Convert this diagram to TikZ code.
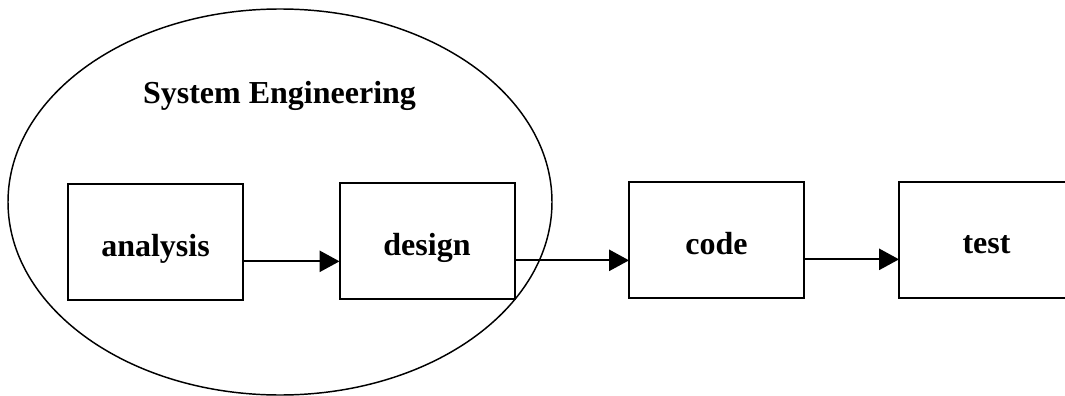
\documentclass[tikz,border=0pt]{standalone}
\usepackage{fontspec}
\setmainfont{Liberation Serif}
\usetikzlibrary{arrows.meta,shapes.geometric}
\tikzset{
  labelfont/.style={font=\bfseries\fontsize{24pt}{28pt}\selectfont},
  stage/.style={draw, labelfont, line width=1.5pt, minimum width=131.25pt,
    minimum height=87pt, inner sep=0pt, outer sep=0pt,
    text height=21pt, text depth=0pt},
  flow/.style={line width=1.3pt, -{Triangle[length=15pt,width=16pt]}},
  group/.style={draw, ellipse, line width=1.1pt, inner sep=0pt,
    minimum width=408pt, minimum height=289.5pt},
  grouptitle/.style={labelfont, anchor=base, inner sep=0pt}
}
\begin{document}
\begin{tikzpicture}[x=0.75pt, y=-0.75pt]
  % page area; the last stage runs past the right edge
  \clip (0,0) rectangle (1065,396);

  % system engineering group
  \node[group] (sys) at (280,202) {};
  \node[grouptitle] (systitle) at (279.5,103) {System Engineering};

  % process stages
  \node[stage] (analysis) at (155.5,242) {analysis};
  \node[stage] (design)   at (427,241)   {design};
  \node[stage] (code)     at (716.5,240) {code};
  \node[stage] (test)     at (986.5,239.5) {test};

  % flow between stages
  \draw[flow] ([yshift=-14.5pt]analysis.east) -- ([yshift=-14.5pt]analysis.east -| design.west);
  \draw[flow] ([yshift=-14.5pt]design.east) -- ([yshift=-14.5pt]design.east -| code.west);
  \draw[flow] ([yshift=-14.5pt]code.east) -- ([yshift=-14.5pt]code.east -| test.west);
\end{tikzpicture}
\end{document}
